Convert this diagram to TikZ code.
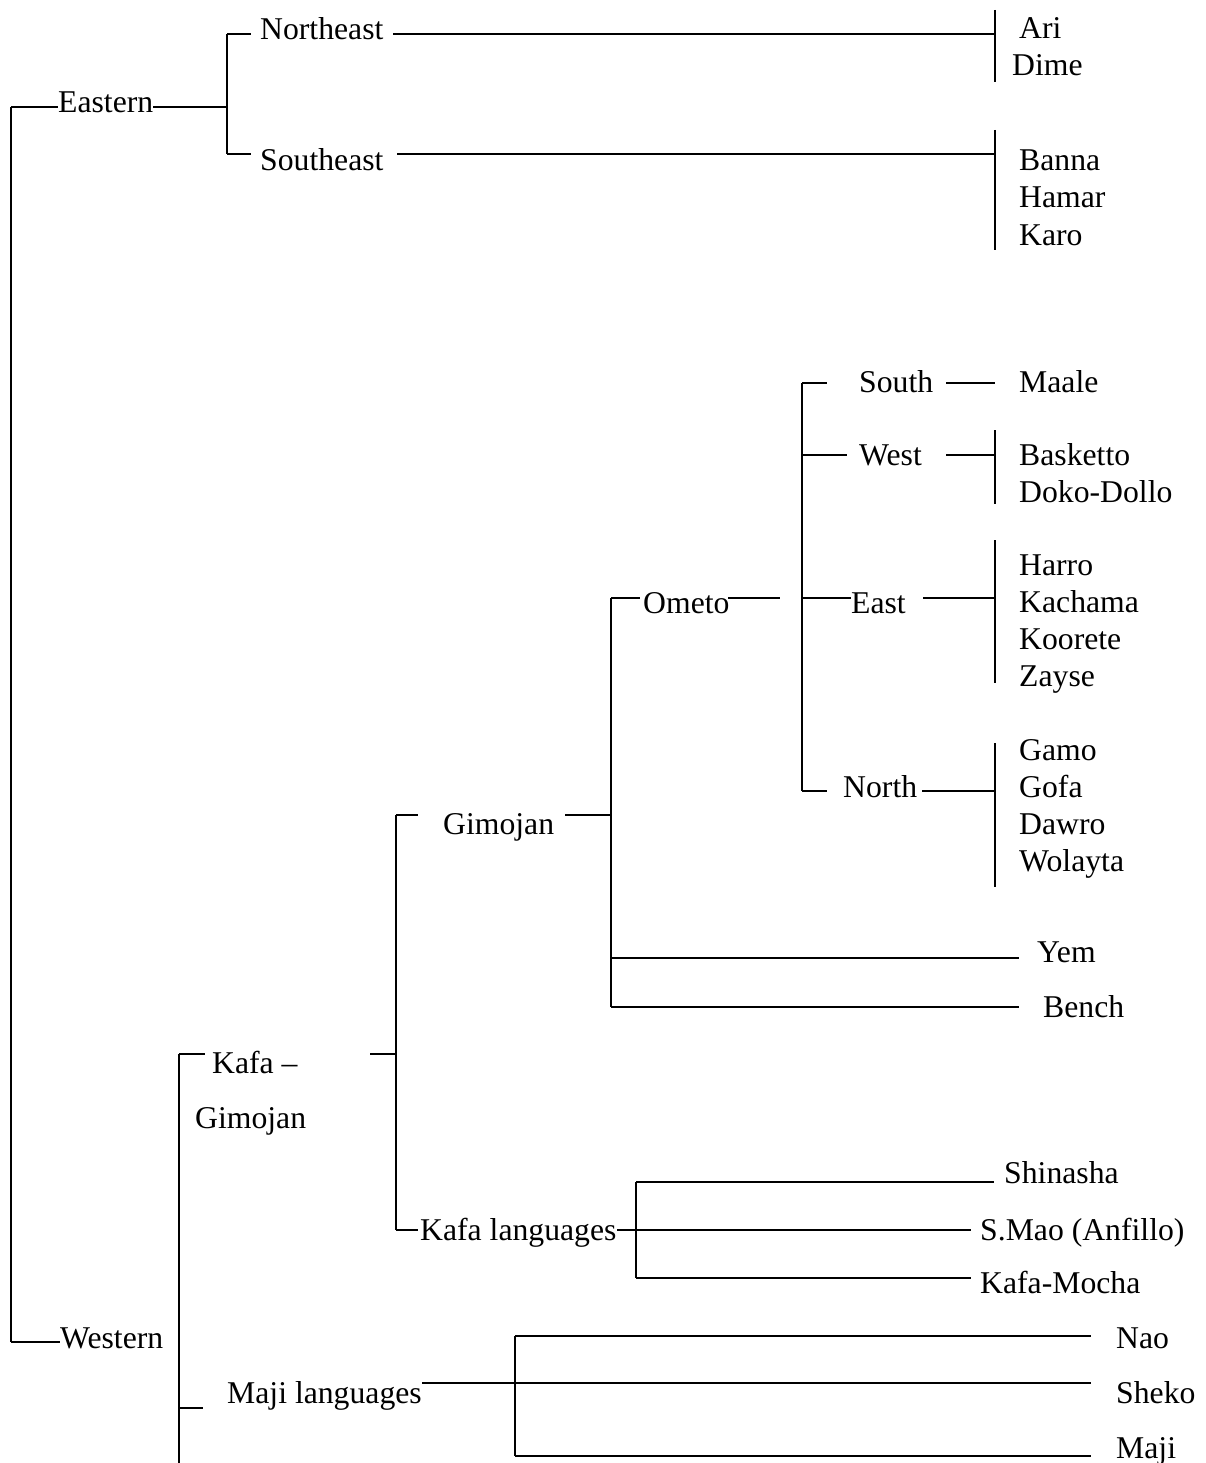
\documentclass[tikz,border=0pt]{standalone}
\usepackage{fontspec}
\setmainfont{Liberation Serif}
\begin{document}
\begin{tikzpicture}[x=1pt,y=-1pt,
  lbl/.style={anchor=base west, inner sep=0pt, font=\fontsize{31.7}{38}\selectfont},
  link/.style={line width=2pt}]
\useasboundingbox (0,0) rectangle (1206,1463);
% ---------- labels ----------
\node[lbl] (eastern) at (58,113) {Eastern};
\node[lbl] (ne) at (260,40) {Northeast};
\node[lbl] (se) at (260,171) {Southeast};
\node[lbl] (ari) at (1019,39) {Ari};
\node[lbl] (dime) at (1012,76) {Dime};
\node[lbl] (banna) at (1019,171) {Banna};
\node[lbl] (hamar) at (1019,208) {Hamar};
\node[lbl] (karo) at (1019,245) {Karo};
\node[lbl] (south) at (859,392) {South};
\node[lbl] (maale) at (1019,392) {Maale};
\node[lbl] (west) at (859,465) {West};
\node[lbl] (basketto) at (1019,465) {Basketto};
\node[lbl] (doko) at (1019,502) {Doko-Dollo};
\node[lbl] (ometo) at (643,613) {Ometo};
\node[lbl] (east) at (851,613) {East};
\node[lbl] (harro) at (1019,575) {Harro};
\node[lbl] (kachama) at (1019,612) {Kachama};
\node[lbl] (koorete) at (1019,649) {Koorete};
\node[lbl] (zayse) at (1019,686) {Zayse};
\node[lbl] (north) at (843,797) {North};
\node[lbl] (gamo) at (1019,760) {Gamo};
\node[lbl] (gofa) at (1019,797) {Gofa};
\node[lbl] (dawro) at (1019,834) {Dawro};
\node[lbl] (wolayta) at (1019,871) {Wolayta};
\node[lbl] (yem) at (1037,962) {Yem};
\node[lbl] (bench) at (1043,1017) {Bench};
\node[lbl] (gimojan) at (443,834) {Gimojan};
\node[lbl] (kafa) at (212,1073) {Kafa –};
\node[lbl] (gimojanb) at (195,1128) {Gimojan};
\node[lbl] (kafalang) at (420,1240) {Kafa languages};
\node[lbl] (shinasha) at (1004,1183) {Shinasha};
\node[lbl] (smao) at (980,1240) {S.Mao (Anfillo)};
\node[lbl] (kafamocha) at (980,1293) {Kafa-Mocha};
\node[lbl] (western) at (60,1348) {Western};
\node[lbl] (majilang) at (227,1403) {Maji languages};
\node[lbl] (nao) at (1116,1348) {Nao};
\node[lbl] (sheko) at (1116,1403) {Sheko};
\node[lbl] (maji) at (1116,1458) {Maji};
% ---------- junction coordinates ----------
\coordinate (rt) at (11,107);   \coordinate (rb) at (11,1342);
\coordinate (ej) at (227,107);  \coordinate (ejt) at (227,34);  \coordinate (ejb) at (227,154);
\coordinate (nes) at (251,34);  \coordinate (ses) at (251,154);
\coordinate (nel) at (393,34);  \coordinate (ner) at (995,34);
\coordinate (neb1) at (995,10); \coordinate (neb2) at (995,82);
\coordinate (sel) at (397,154); \coordinate (ser) at (995,154);
\coordinate (seb1) at (995,130); \coordinate (seb2) at (995,250);
% western
\coordinate (wt) at (179,1054); \coordinate (wb) at (179,1463);
\coordinate (kgs) at (205,1054); \coordinate (mjs) at (179,1408); \coordinate (mje) at (203,1408);
\coordinate (kgl) at (370,1054); \coordinate (kgr) at (396,1054);
\coordinate (kgt) at (396,815);  \coordinate (kgb) at (396,1230);
\coordinate (gms) at (418,815);  \coordinate (kls) at (418,1230);
\coordinate (gml) at (565,815);  \coordinate (gmr) at (611,815);
\coordinate (gvt) at (611,598);  \coordinate (gvb) at (611,1007);
\coordinate (oms) at (640,598);  \coordinate (oml) at (728,598); \coordinate (omr) at (780,598);
\coordinate (ovt) at (802,383);  \coordinate (ovb) at (802,791);
\coordinate (sos) at (827,383);  \coordinate (sol) at (946,383); \coordinate (sor) at (995,383);
\coordinate (wsl) at (802,455);  \coordinate (wss) at (847,455);
\coordinate (wll) at (946,455);  \coordinate (wlr) at (995,455);
\coordinate (wb1) at (995,430);  \coordinate (wb2) at (995,504);
\coordinate (esl) at (802,598);  \coordinate (ess) at (851,598);
\coordinate (ell) at (923,598);  \coordinate (elr) at (995,598);
\coordinate (eb1) at (995,540);  \coordinate (eb2) at (995,683);
\coordinate (nos) at (827,791);  \coordinate (nol) at (922,791); \coordinate (nor) at (995,791);
\coordinate (nb1) at (995,743);  \coordinate (nb2) at (995,887);
\coordinate (yer) at (1019,958); \coordinate (yel) at (611,958);
\coordinate (ber) at (1019,1007);
\coordinate (kll) at (617,1230); \coordinate (klr) at (971,1230);
\coordinate (kvt) at (636,1182); \coordinate (kvb) at (636,1278);
\coordinate (shr) at (994,1182); \coordinate (kmr) at (971,1278);
\coordinate (mll) at (422,1383); \coordinate (mlr) at (1091,1383);
\coordinate (mvt) at (515,1336); \coordinate (mvb) at (515,1456);
\coordinate (nar) at (1091,1336); \coordinate (mar) at (1091,1456);
% ---------- connectors ----------
\draw[link] (rt) -- (rb);
\draw[link] (rt) -- (eastern.west |- rt);
\draw[link] (rb) -- (western.west |- rb);
\draw[link] (eastern.east |- ej) -- (ej);
\draw[link] (ejt) -- (ejb);
\draw[link] (ejt) -- (nes);
\draw[link] (ejb) -- (ses);
\draw[link] (nel) -- (ner);
\draw[link] (neb1) -- (neb2);
\draw[link] (sel) -- (ser);
\draw[link] (seb1) -- (seb2);
\draw[link] (wt) -- (wb);
\draw[link] (wt) -- (kgs);
\draw[link] (mjs) -- (mje);
\draw[link] (kgl) -- (kgr);
\draw[link] (kgt) -- (kgb);
\draw[link] (kgt) -- (gms);
\draw[link] (kgb) -- (kls);
\draw[link] (gml) -- (gmr);
\draw[link] (gvt) -- (gvb);
\draw[link] (gvt) -- (oms);
\draw[link] (oml) -- (omr);
\draw[link] (ovt) -- (ovb);
\draw[link] (ovt) -- (sos);
\draw[link] (sol) -- (sor);
\draw[link] (wsl) -- (wss);
\draw[link] (wll) -- (wlr);
\draw[link] (wb1) -- (wb2);
\draw[link] (esl) -- (ess);
\draw[link] (ell) -- (elr);
\draw[link] (eb1) -- (eb2);
\draw[link] (ovb) -- (nos);
\draw[link] (nol) -- (nor);
\draw[link] (nb1) -- (nb2);
\draw[link] (yel) -- (yer);
\draw[link] (gvb) -- (ber);
\draw[link] (kll) -- (klr);
\draw[link] (kvt) -- (kvb);
\draw[link] (kvt) -- (shr);
\draw[link] (kvb) -- (kmr);
\draw[link] (mll) -- (mlr);
\draw[link] (mvt) -- (mvb);
\draw[link] (mvt) -- (nar);
\draw[link] (mvb) -- (mar);
\end{tikzpicture}
\end{document}
